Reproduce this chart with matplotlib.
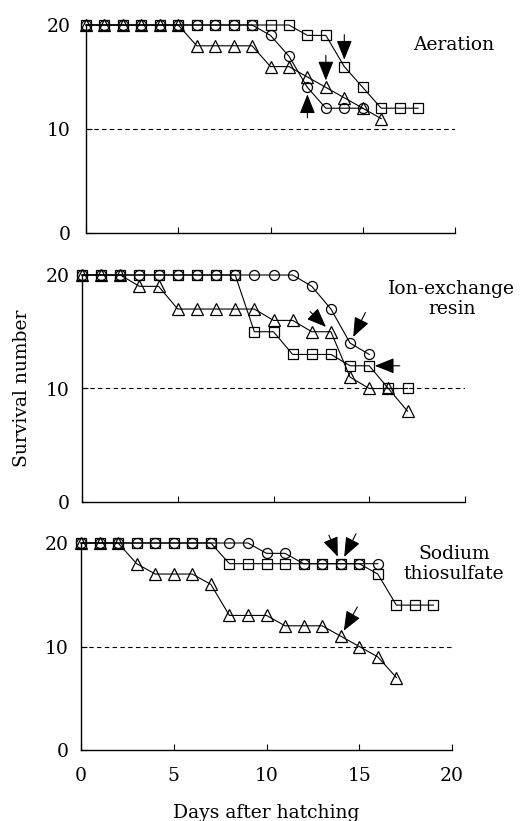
import matplotlib
matplotlib.use("Agg")
import matplotlib.pyplot as plt

plt.rcParams['font.family'] = ['DejaVu Serif']

# ---------------- data ----------------
panel_names = ["Aeration", "Ion-exchange\nresin", "Sodium\nthiosulfate"]

# Aeration
aer_sq_days = list(range(0, 19))
aer_sq_vals = [20]*12 + [19, 19, 16, 14, 12, 12, 12]
aer_ci_days = list(range(0, 16))
aer_ci_vals = [20]*10 + [19, 17, 14, 12, 12, 12]
aer_tr_days = list(range(0, 17))
aer_tr_vals = [20]*6 + [18, 18, 18, 18, 16, 16, 15, 14, 13, 12, 11]

# Ion-exchange resin
ion_sq_days = list(range(0, 18))
ion_sq_vals = [20]*9 + [15, 15, 13, 13, 13, 12, 12, 10, 10]
ion_ci_days = list(range(0, 16))
ion_ci_vals = [20]*12 + [19, 17, 14, 13]
ion_tr_days = list(range(0, 18))
ion_tr_vals = [20, 20, 20, 19, 19, 17, 17, 17, 17, 17, 16, 16, 15, 15, 11, 10, 10, 8]

# Sodium thiosulfate
sod_sq_days = list(range(0, 20))
sod_sq_vals = [20]*8 + [18]*8 + [17, 14, 14, 14]
sod_ci_days = list(range(0, 17))
sod_ci_vals = [20]*10 + [19, 19, 18, 18, 18, 18, 18]
sod_tr_days = list(range(0, 18))
sod_tr_vals = [20, 20, 20, 18, 17, 17, 17, 16, 13, 13, 13, 12, 12, 12, 11, 10, 9, 7]

series = [
    [(aer_sq_days, aer_sq_vals), (aer_ci_days, aer_ci_vals), (aer_tr_days, aer_tr_vals)],
    [(ion_sq_days, ion_sq_vals), (ion_ci_days, ion_ci_vals), (ion_tr_days, ion_tr_vals)],
    [(sod_sq_days, sod_sq_vals), (sod_ci_days, sod_ci_vals), (sod_tr_days, sod_tr_vals)],
]

# arrows: (target day, target value)
arrow_targets = [
    [(14, 16), (13, 14), (12, 14)],
    [(13, 15), (14, 14), (15, 12)],
    [(14, 18), (14, 18), (14, 11)],
]

y_ticks = [0, 10, 20]
x_ticks = [0, 5, 10, 15, 20]
threshold = 10
xlabel = "Days after hatching"
ylabel = "Survival number"

# ---------------- layout / style ----------------
fig = plt.figure(figsize=(5.24, 8.21), dpi=100)
W, H = 524, 821
boxes = [(86, 455, 25, 233), (82, 465, 275, 502), (81, 452, 543, 750)]
arrow_offsets = [
    [(0, 23), (0, 23), (0, -22)],
    [(-15, 14.5), (11, 22), (22, 0)],
    [(-8.5, 20.5), (11, 21.5), (12, 21)],
]
arrow_shrink = [[5, 5, 5], [5, 5, 4], [5.5, 5.5, 4.5]]
label_pos = [(0.997, 0.905), (0.966, 0.895), (1.005, 0.897)]
markers = [('s', 7.2), ('o', 7.2), ('^', 8.4)]
fs = 13.5

axes = []
for i, (x0, x1, yt, yb) in enumerate(boxes):
    ax = fig.add_axes([x0 / W, 1 - yb / H, (x1 - x0) / W, (yb - yt) / H])
    axes.append(ax)
    ax.set_xlim(0, 20)
    ax.set_ylim(0, 20)
    for s in ['top', 'right']:
        ax.spines[s].set_visible(False)
    for s in ['left', 'bottom']:
        ax.spines[s].set_linewidth(1.0)
    ax.axhline(threshold, xmin=0, xmax=1, color='black', lw=0.8,
               linestyle=(0, (4, 3)), zorder=1)
    for (days, vals), (m, ms) in zip(series[i], markers):
        ax.plot(days, vals, color='black', lw=0.8, marker=m, ms=ms,
                mfc='none', mec='black', mew=0.9, clip_on=False, zorder=3)
    for (d, v), (dx, dy), sh in zip(arrow_targets[i], arrow_offsets[i], arrow_shrink[i]):
        ax.annotate('', xy=(d, v), xytext=(dx, dy), textcoords='offset points',
                    arrowprops=dict(arrowstyle='-|>,head_length=0.6,head_width=0.24',
                                    mutation_scale=20, color='black', lw=0.8,
                                    shrinkA=0, shrinkB=sh),
                    annotation_clip=False, zorder=5)
    ax.set_yticks(y_ticks)
    ax.set_xticks(x_ticks)
    ax.tick_params(direction='in', length=4, width=0.8, labelsize=fs)
    ax.tick_params(axis='y', pad=11 if i == 0 else 9)
    ax.tick_params(axis='x', pad=12)
    if i < 2:
        ax.set_xticklabels([])
    lx, ly = label_pos[i]
    ax.text(lx, ly, panel_names[i], transform=ax.transAxes, ha='center',
            va='center', fontsize=fs, linespacing=1.15)

axes[2].set_xlabel(xlabel, fontsize=fs, labelpad=14)
fig.text(22 / W, 1 - 388 / H, ylabel, rotation=90, ha='center', va='center',
         fontsize=fs)

fig.savefig("out.png", dpi=100)
